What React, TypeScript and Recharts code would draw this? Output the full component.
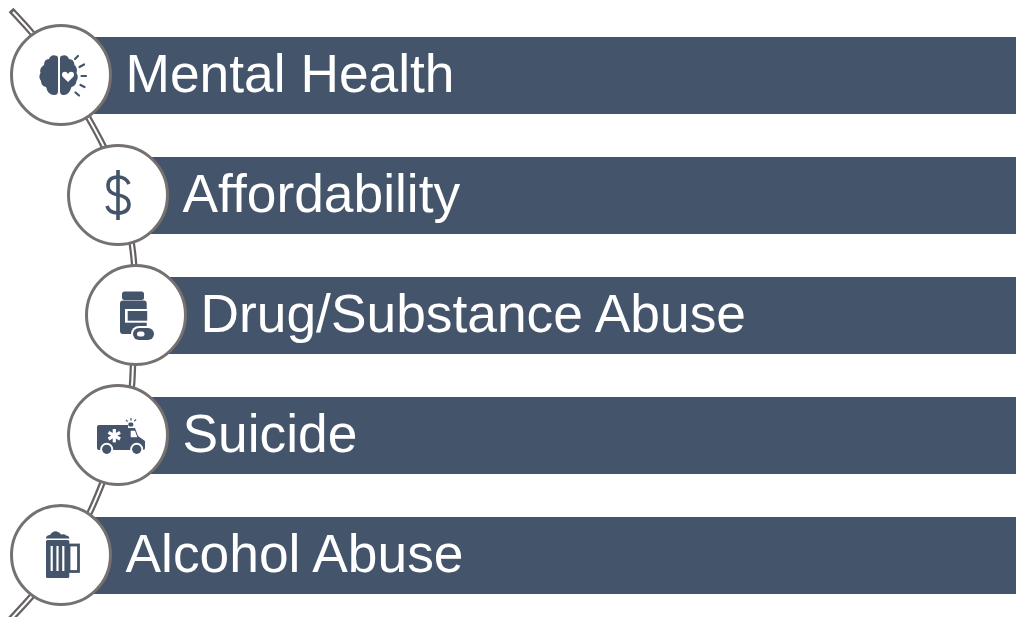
import React from 'react'
import { ComposedChart, Bar, Line, LineChart, LabelList, XAxis, YAxis } from 'recharts'

const categories = ['Mental Health', 'Affordability', 'Drug/Substance Abuse', 'Suicide', 'Alcohol Abuse']
const nodeX = [61, 118, 136, 118, 61]
const barEnd = [1016, 1016, 1016, 1016, 1016]

// the arc behind the circles, read as x at each y
const arcY = [10, 33, 119, 145, 245, 263, 315, 365, 385, 484, 512, 597, 622]
const arcX = [11, 32, 89, 103, 132, 134, 136, 133, 132, 102, 90, 31, 8]

const BLUE = '#44546A'
const GREY = '#767171'

const rows = categories.map((name, i) => ({ name, node: nodeX[i], span: [nodeX[i], barEnd[i]] }))
const arcEdge = arcY.map((y, i) => ({ y, x: arcX[i] }))
const arcCore = [{ y: 12, x: 13 }, ...arcEdge.slice(1)]

const BrainIcon = () => (
  <g fill={BLUE}>
    <path d="M-3 -17 Q-3 -19.5 -6 -19.5 Q-10 -20.5 -12 -16 Q-17 -16 -17 -10 Q-22 -7 -20.5 -2 Q-23 2 -20 6 Q-20 11 -15 12 Q-13 20 -7 20 Q-3 20.5 -3 16 Z" />
    <path d="M-1 -17 Q-1 -19.5 2 -19.5 Q6 -20.5 8 -16 Q13 -16 13.5 -10 Q17 -7 15.5 -2 Q18 2 15.5 6 Q15 11 10.5 12 Q8 20 3 20 Q-1 20.5 -1 16 Z" />
    <path d="M7 7 L1.5 1.5 Q0 -1.5 2.5 -3 Q5.5 -4 7 -1 Q8.5 -4 11.5 -3 Q14 -1.5 12.5 1.5 Z" fill="#fff" />
    <g stroke={BLUE} strokeWidth={2.2} strokeLinecap="round">
      <line x1={14} y1={-16} x2={17} y2={-19} />
      <line x1={18.5} y1={-8} x2={23} y2={-10.5} />
      <line x1={20.5} y1={1} x2={25} y2={1} />
      <line x1={19.5} y1={10} x2={23.5} y2={12} />
      <line x1={14.5} y1={17.5} x2={18} y2={20.5} />
    </g>
  </g>
)

const DollarIcon = () => (
  <g fill="none" stroke={BLUE} strokeWidth={3.6}>
    <path d="M11 -11 Q8 -18 0 -18 Q-10 -18 -10 -9 Q-10 -2 0 0 Q11 2 11 9 Q11 18 0 18 Q-9 18 -11 11" />
    <line x1={0} y1={-25} x2={0} y2={25} />
  </g>
)

const BottleIcon = () => (
  <g>
    <rect x={-14} y={-23.5} width={22} height={8.5} rx={2.5} fill={BLUE} />
    <rect x={-16} y={-14.5} width={26.7} height={33.5} rx={3} fill={BLUE} />
    <rect x={-11} y={-6} width={22} height={13.7} fill="#fff" />
    <rect x={-8.3} y={-4} width={19.5} height={9.7} fill={BLUE} />
    <rect x={-5} y={11} width={25} height={16} rx={8} fill="#fff" />
    <rect x={-3} y={13} width={21} height={12} rx={6} fill={BLUE} />
    <rect x={1} y={16.5} width={7.5} height={5} rx={2.5} fill="#fff" />
  </g>
)

const AmbulanceIcon = () => (
  <g>
    <path d="M-19 -10 H10 V-7 H17 L20 1 L27 6 V13 Q27 15 25 15 H-19 Q-21 15 -21 13 V-8 Q-21 -10 -19 -10 Z" fill={BLUE} />
    <path d="M12.7 -4.3 H17 L19.3 2.3 H12.7 Z" fill="#fff" />
    <g stroke="#fff" strokeWidth={3.2}>
      <line x1={-3.7} y1={-6} x2={-3.7} y2={7.4} />
      <line x1={-9.5} y1={-2.6} x2={2.1} y2={4} />
      <line x1={-9.5} y1={4} x2={2.1} y2={-2.6} />
    </g>
    <circle cx={-11.3} cy={14.3} r={6.5} fill="#fff" />
    <circle cx={18.7} cy={14.3} r={6.5} fill="#fff" />
    <circle cx={-11.3} cy={14.3} r={4.6} fill={BLUE} />
    <circle cx={18.7} cy={14.3} r={4.6} fill={BLUE} />
    <rect x={10.3} y={-12.5} width={5} height={4} rx={1.5} fill={BLUE} />
    <g stroke={BLUE} strokeWidth={1.2}>
      <line x1={8} y1={-15} x2={9.6} y2={-13.4} />
      <line x1={13} y1={-17} x2={13} y2={-14.5} />
      <line x1={18} y1={-15.6} x2={16.2} y2={-13.6} />
    </g>
  </g>
)

const MugIcon = () => (
  <g>
    <path d="M-15 -16.5 Q-15 -20 -11 -20 Q-8 -24.5 -4 -23.5 Q-1 -22.5 0 -20.5 Q4 -21.5 5 -19.5 Q8.3 -19.5 8.3 -16.5 Z" fill={BLUE} />
    <rect x={8} y={-10} width={9.5} height={26.5} fill="#fff" stroke={BLUE} strokeWidth={2.8} />
    <rect x={-15} y={-15} width={23.3} height={38} rx={1.5} fill={BLUE} />
    <g stroke="#fff" strokeWidth={2.2}>
      <line x1={-9.3} y1={-9} x2={-9.3} y2={16} />
      <line x1={-3.5} y1={-9} x2={-3.5} y2={16} />
      <line x1={2.3} y1={-9} x2={2.3} y2={16} />
    </g>
  </g>
)

const icons = [BrainIcon, DollarIcon, BottleIcon, AmbulanceIcon, MugIcon]

const NodeDot = ({ cx, cy, index }: { cx?: number; cy?: number; index?: number }) => {
  const Icon = icons[index ?? 0]
  return (
    <g key={index} transform={`translate(${cx},${cy})`}>
      <circle r={49.5} fill="#fff" stroke={GREY} strokeWidth={3} />
      <Icon />
    </g>
  )
}

const RowLabel = ({ x, y, height, value }: { x?: number; y?: number; height?: number; value?: string }) => (
  <text
    x={Number(x) + 64.5}
    y={Number(y) + Number(height) / 2 + 16.5}
    fill="#fff"
    style={{ fontFamily: '"Liberation Sans", Arial, sans-serif', fontSize: 53.33 }}
  >
    {value}
  </text>
)

export default function App() {
  return (
    <div style={{ position: 'absolute', left: 0, top: 0, width: 1016, height: 617, background: '#fff', overflow: 'hidden' }}>
      <div style={{ position: 'absolute', left: 0, top: 0 }}>
        <LineChart layout="vertical" width={1016} height={617} margin={{ top: 0, right: 0, bottom: 0, left: 0 }}>
          <XAxis type="number" dataKey="x" domain={[0, 1016]} hide />
          <YAxis type="number" dataKey="y" domain={[0, 617]} allowDataOverflow hide />
          <Line data={arcEdge} dataKey="x" type="monotone" stroke="#666262" strokeWidth={6.5} dot={false} isAnimationActive={false} />
          <Line data={arcCore} dataKey="x" type="monotone" stroke="#fff" strokeWidth={2} dot={false} isAnimationActive={false} />
        </LineChart>
      </div>
      <div style={{ position: 'absolute', left: 0, top: 0 }}>
        <ComposedChart layout="vertical" width={1016} height={617} data={rows} margin={{ top: 15, right: 0, bottom: 2, left: 0 }}>
          <XAxis type="number" domain={[0, 1016]} hide />
          <YAxis type="category" dataKey="name" hide />
          <Bar dataKey="span" fill={BLUE} barSize={77} isAnimationActive={false}>
            <LabelList dataKey="name" content={<RowLabel />} />
          </Bar>
          <Line dataKey="node" stroke="none" dot={<NodeDot />} activeDot={false} isAnimationActive={false} />
        </ComposedChart>
      </div>
    </div>
  )
}
